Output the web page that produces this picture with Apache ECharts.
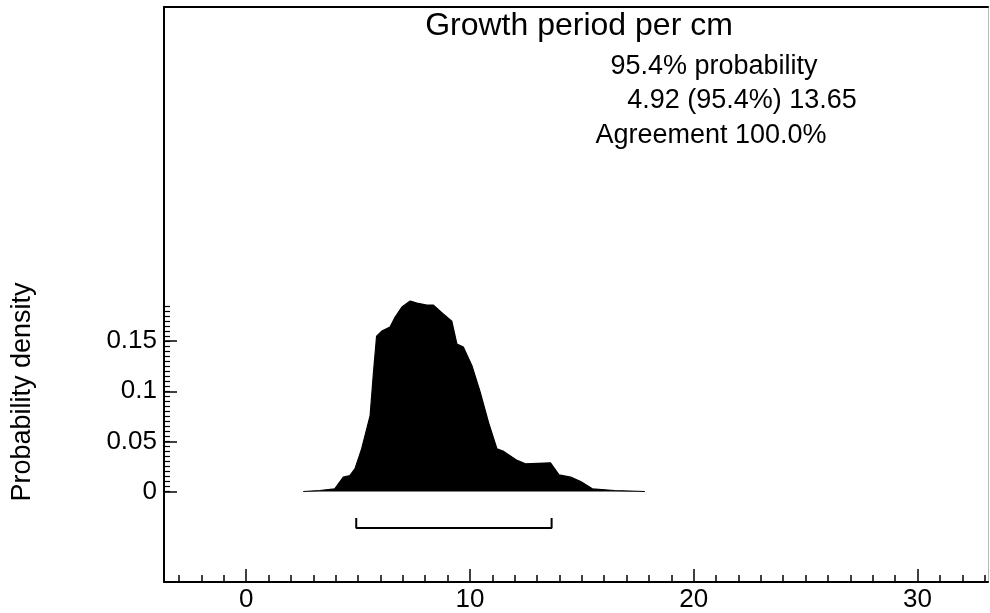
<!DOCTYPE html>
<html>
<head>
<meta charset="utf-8">
<script src="https://cdn.jsdelivr.net/npm/echarts@6/dist/echarts.min.js"></script>
<style>html,body{margin:0;padding:0;background:#fff}#c{width:990px;height:613px}</style>
</head>
<body>
<div id="c"></div>
<script>
var densityX = [2.55, 3.29, 3.96, 4.34, 4.64, 4.86, 5.16, 5.54, 5.69, 5.83, 6.06, 6.43, 6.66, 6.96, 7.33, 7.63, 8.07, 8.37, 8.82, 9.19, 9.42, 9.71, 10.09, 10.46, 10.83, 11.21, 11.51, 12.11, 12.48, 13.6, 13.98, 14.5, 14.95, 15.47, 16.45, 17.82];
var densityY = [0, 0.001, 0.0027, 0.0143, 0.016, 0.0226, 0.0425, 0.0757, 0.119, 0.155, 0.160, 0.164, 0.174, 0.184, 0.190, 0.188, 0.186, 0.186, 0.177, 0.170, 0.147, 0.144, 0.1255, 0.099, 0.069, 0.0425, 0.040, 0.031, 0.0276, 0.0286, 0.0166, 0.0143, 0.010, 0.0027, 0.001, 0];
var rangeLow = 4.92;
var rangeHigh = 13.65;
var xMajorTicks = [0, 10, 20, 30];
var xMinorTicks = [-3,-2,-1,0,1,2,3,4,5,6,7,8,9,10,11,12,13,14,15,16,17,18,19,20,21,22,23,24,25,26,27,28,29,30,31,32,33];
var yMajorTicks = [0, 0.05, 0.1, 0.15];
var yMinorTicks = [0,0.005,0.01,0.015,0.02,0.025,0.03,0.035,0.04,0.045,0.05,0.055,0.06,0.065,0.07,0.075,0.08,0.085,0.09,0.095,0.1,0.105,0.11,0.115,0.12,0.125,0.13,0.135,0.14,0.145,0.15,0.155,0.16,0.165,0.17,0.175,0.18,0.185];
var titleText = 'Growth period per cm';
var infoLines = ['95.4% probability', '4.92 (95.4%) 13.65', 'Agreement 100.0%'];
var yName = 'Probability density';

var FONT = '"Liberation Sans", Arial, Helvetica, sans-serif';
var X_MIN = -3.67, X_MAX = 33.15, Y_MIN = -0.0903, Y_MAX = 0.4834;

var densityData = densityX.map(function (x, i) { return [x, densityY[i]]; });
var bracketData = [[rangeLow, -0.0265], [rangeLow, -0.0365], [rangeHigh, -0.0365], [rangeHigh, -0.0265]];

var chart = echarts.init(document.getElementById('c'), null, {renderer: 'canvas'});
var hidden = {show: false};
chart.setOption({
  animation: false,
  backgroundColor: '#fff',
  grid: {left: 164, right: 2, top: 7, bottom: 30, containLabel: false},
  xAxis: [
    {type: 'value', position: 'bottom', min: X_MIN, max: X_MAX,
     axisLine: {show: true, onZero: false, lineStyle: {color: '#000', width: 2}},
     axisTick: {show: true, inside: true, length: 13, customValues: xMajorTicks, lineStyle: {color: '#000', width: 1.5}},
     axisLabel: {show: true, customValues: xMajorTicks, margin: 5, color: '#000', fontSize: 26, fontFamily: FONT},
     splitLine: hidden},
    {type: 'value', position: 'bottom', min: X_MIN, max: X_MAX,
     axisLine: {show: false, onZero: false},
     axisTick: {show: true, inside: true, length: 7, customValues: xMinorTicks, lineStyle: {color: '#000', width: 1.5}},
     axisLabel: hidden, splitLine: hidden},
    {type: 'value', position: 'top', min: X_MIN, max: X_MAX,
     axisLine: {show: true, onZero: false, lineStyle: {color: '#000', width: 2}},
     axisTick: hidden, axisLabel: hidden, splitLine: hidden}
  ],
  yAxis: [
    {type: 'value', position: 'left', min: Y_MIN, max: Y_MAX,
     axisLine: {show: true, onZero: false, lineStyle: {color: '#000', width: 2}},
     axisTick: {show: true, inside: true, length: 13, customValues: yMajorTicks, lineStyle: {color: '#000', width: 1.5}},
     axisLabel: {show: true, customValues: yMajorTicks, margin: 7, color: '#000', fontSize: 26, fontFamily: FONT},
     splitLine: hidden},
    {type: 'value', position: 'left', min: Y_MIN, max: Y_MAX,
     axisLine: {show: false, onZero: false},
     axisTick: {show: true, inside: true, length: 6, customValues: yMinorTicks, lineStyle: {color: '#000', width: 1.2}},
     axisLabel: hidden, splitLine: hidden},
    {type: 'value', position: 'right', min: Y_MIN, max: Y_MAX,
     axisLine: {show: true, onZero: false, lineStyle: {color: '#bbb', width: 1}},
     axisTick: hidden, axisLabel: hidden, splitLine: hidden}
  ],
  series: [
    {type: 'line', xAxisIndex: 0, yAxisIndex: 0, data: densityData, symbol: 'none', smooth: false,
     lineStyle: {color: '#000', width: 1.2}, areaStyle: {color: '#000', opacity: 1, origin: 'auto'}},
    {type: 'line', xAxisIndex: 0, yAxisIndex: 0, data: bracketData, symbol: 'none', smooth: false,
     lineStyle: {color: '#000', width: 2}}
  ],
  graphic: [
    {type: 'text', x: 579, y: 26, style: {text: titleText, font: '32px ' + FONT, fill: '#000', textAlign: 'center', textVerticalAlign: 'middle'}},
    {type: 'text', x: 714, y: 67, style: {text: infoLines[0], font: '27px ' + FONT, fill: '#000', textAlign: 'center', textVerticalAlign: 'middle'}},
    {type: 'text', x: 742, y: 101, style: {text: infoLines[1], font: '27px ' + FONT, fill: '#000', textAlign: 'center', textVerticalAlign: 'middle'}},
    {type: 'text', x: 711, y: 136, style: {text: infoLines[2], font: '27px ' + FONT, fill: '#000', textAlign: 'center', textVerticalAlign: 'middle'}},
    {type: 'text', x: 23, y: 392, rotation: Math.PI / 2, style: {text: yName, font: '27px ' + FONT, fill: '#000', textAlign: 'center', textVerticalAlign: 'middle'}}
  ]
});
</script>
</body>
</html>
